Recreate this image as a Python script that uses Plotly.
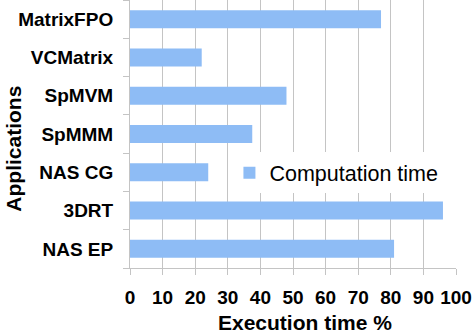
import plotly.graph_objects as go

# Applications listed bottom to top
applications = ["NAS EP", "3DRT", "NAS CG", "SpMMM", "SpMVM", "VCMatrix", "MatrixFPO"]
computation_time = [81, 96, 24, 37.5, 48, 22, 77]
x_ticks = [0, 10, 20, 30, 40, 50, 60, 70, 80, 90, 100]

BAR_COLOR = "#8ebcf5"
GRID = "#c4c4c4"
FONT = "Liberation Sans, Arial, sans-serif"

fig = go.Figure()
fig.add_trace(go.Bar(
    y=applications,
    x=computation_time,
    orientation="h",
    name="Computation time",
    marker=dict(color=BAR_COLOR, line=dict(width=0)),
    width=0.47,
))

fig.update_layout(
    width=474, height=335,
    margin=dict(l=130, r=18, t=0, b=67),
    paper_bgcolor="white", plot_bgcolor="white",
    font=dict(family=FONT, color="black"),
    showlegend=True,
    legend=dict(
        x=0.305, y=0.355, xanchor="left", yanchor="middle",
        bgcolor="white", font=dict(size=21.5, family=FONT),
        itemwidth=30,
    ),
    annotations=[
        dict(
            text="<b>Execution time %</b>",
            xref="paper", yref="paper", x=0.537, y=-0.205,
            xanchor="center", yanchor="middle", showarrow=False,
            font=dict(size=21, family=FONT),
        ),
        dict(
            text="<b>Applications</b>",
            xref="paper", yref="paper", x=-0.36, y=0.444,
            xanchor="center", yanchor="middle", showarrow=False,
            textangle=-90, font=dict(size=21, family=FONT),
        ),
    ],
)

fig.update_xaxes(
    range=[0, 100],
    tickvals=x_ticks,
    ticktext=[str(v) for v in x_ticks],
    showgrid=True, gridcolor=GRID, gridwidth=1,
    showline=True, linecolor=GRID, linewidth=1,
    ticks="outside", ticklen=6, tickcolor=GRID,
    ticklabelstandoff=6,
    tickfont=dict(size=19, family=FONT, weight="bold"),
    zeroline=False, automargin=False,
)

fig.update_yaxes(
    categoryorder="array", categoryarray=applications,
    showgrid=False,
    showline=True, linecolor=GRID, linewidth=1,
    ticks="outside", ticklen=6, tickcolor=GRID, tickson="boundaries",
    ticklabelstandoff=12,
    tickfont=dict(size=19, family=FONT, weight="bold"),
    automargin=False,
)

fig.write_html("out.html")
